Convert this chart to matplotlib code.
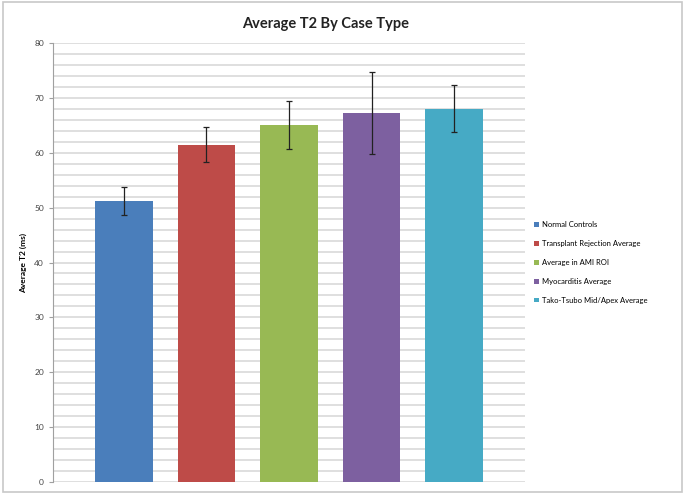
import matplotlib.pyplot as plt
from matplotlib.patches import Rectangle
import numpy as np

plt.rcParams['font.family'] = ['Lato', 'DejaVu Sans']

categories = ["Normal Controls", "Transplant Rejection Average", "Average in AMI ROI",
              "Myocarditis Average", "Tako-Tsubo Mid/Apex Average"]
means = [51.2, 61.5, 65.1, 67.2, 68.0]
errors = [2.6, 3.2, 4.4, 7.5, 4.3]
colors = ["#4a7ebb", "#be4b48", "#98b954", "#7d60a0", "#46aac5"]
yticks = [0, 10, 20, 30, 40, 50, 60, 70, 80]

fig = plt.figure(figsize=(6.85, 4.96), dpi=100)
ax = fig.add_axes([0.0774, 0.0282, 0.689, 0.8851])

x = np.arange(len(categories))
for i in range(len(categories)):
    ax.bar(x[i], means[i], width=0.70, color=colors[i], label=categories[i], zorder=2)
ax.errorbar(x, means, yerr=errors, fmt="none", ecolor="#222222", elinewidth=0.9,
            capsize=2, capthick=0.9, zorder=3)

ax.set_xlim(-0.86, 4.86)
ax.set_ylim(0, 80)
ax.set_yticks(yticks)
ax.set_yticks(np.arange(0, 81, 2), minor=True)
ax.yaxis.grid(True, which="both", color="#d9d9d9", linewidth=1.2, zorder=0)
ax.set_axisbelow(True)
ax.set_xticks([])
for s in ["top", "right", "bottom"]:
    ax.spines[s].set_visible(False)
ax.spines["left"].set_color("#a0a0a0")
ax.tick_params(axis="y", which="major", labelsize=6, colors="#a0a0a0", labelcolor="#444444",
               length=3, width=0.8)
ax.tick_params(axis="y", which="minor", length=0)
ax.set_ylabel("Average T2 (ms)", fontsize=6, fontweight="bold", labelpad=5)

fig.text(0.475, 0.951, "Average T2 By Case Type", ha="center", va="center",
         fontsize=10.5, fontweight="bold", color="#222222")

ax.legend(loc="center left", bbox_to_anchor=(1.005, 0.5), frameon=False, fontsize=5.5,
          handlelength=0.6, handleheight=0.6, labelspacing=1.55, handletextpad=0.4)

fig.patches.append(Rectangle((0.004, 0.008), 0.992, 0.988, transform=fig.transFigure,
                             fill=False, edgecolor="#c8c8c8", linewidth=1.2))

fig.savefig("out.png", dpi=100)
